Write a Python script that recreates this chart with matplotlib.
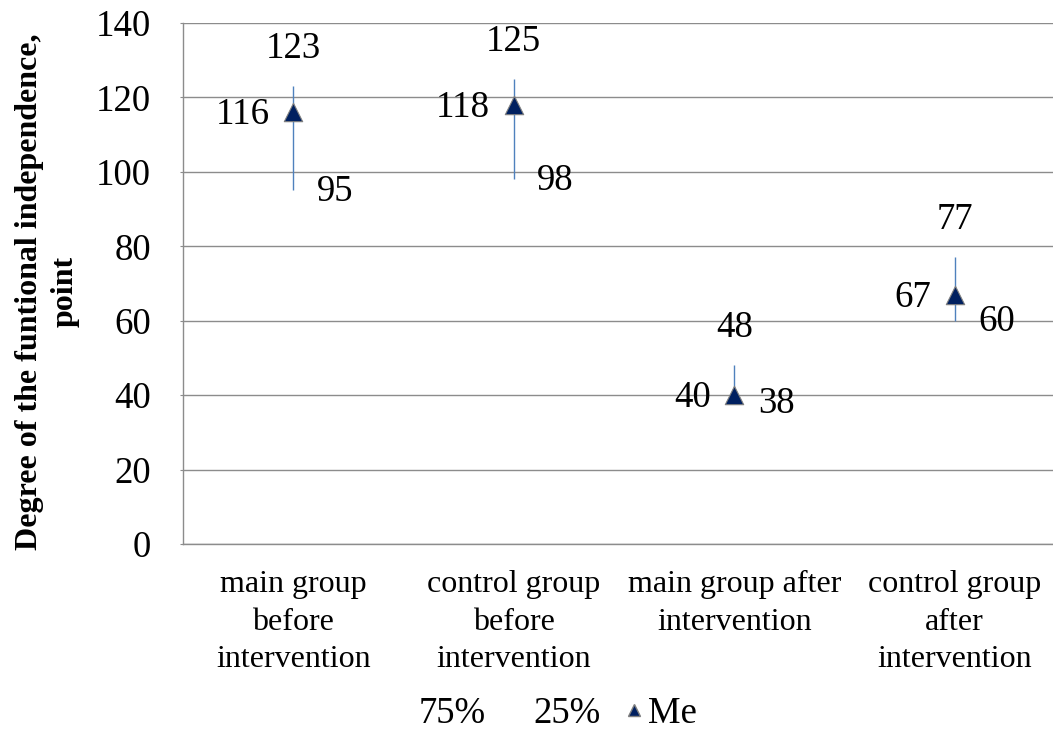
import matplotlib
matplotlib.use("Agg")
import matplotlib.pyplot as plt
from matplotlib.lines import Line2D

plt.rcParams['font.family'] = ['Liberation Serif', 'DejaVu Serif']

categories = ["main group\nbefore\nintervention",
              "control group\nbefore\nintervention",
              "main group after\nintervention",
              "control group\nafter\nintervention"]
q75 = [123, 125, 48, 77]
q25 = [95, 98, 38, 60]
median = [116, 118, 40, 67]
y_ticks = [0, 20, 40, 60, 80, 100, 120, 140]

W, H = 1053, 733
fig = plt.figure(figsize=(W / 100, H / 100), dpi=100)
left, right, bottom, top = 183, 1065, 544, 23
ax = fig.add_axes([left / W, 1 - bottom / H, (right - left) / W, (bottom - top) / H])

x = list(range(len(categories)))
grid_c = "#8c8c8c"
fs = 26.5

ax.set_xlim(-0.5, len(categories) - 0.5)
ax.set_ylim(0, 140)
ax.set_yticks(y_ticks)
ax.yaxis.grid(True, color=grid_c, linewidth=1.0)
ax.set_axisbelow(True)
for s in ("top", "right"):
    ax.spines[s].set_visible(False)
for s in ("left", "bottom"):
    ax.spines[s].set_color(grid_c)
    ax.spines[s].set_linewidth(1.0)

# high-low lines between the quartiles
ax.vlines(x, q25, q75, color="#4f81bd", linewidth=1.0, zorder=2)
ax.scatter(x, median, marker="^", s=175, color="#002060", edgecolors="#7f7f7f",
           linewidths=0.8, zorder=3)

for xi, hi, lo, me in zip(x, q75, q25, median):
    ax.annotate(f"{hi}", (xi, hi), xytext=(0, 27), textcoords="offset points",
                ha="center", va="center", fontsize=fs)
    ax.annotate(f"{me}", (xi, me), xytext=(-17, -2), textcoords="offset points",
                ha="right", va="center", fontsize=fs)
    ax.annotate(f"{lo}", (xi, lo), xytext=(17, -1), textcoords="offset points",
                ha="left", va="center", fontsize=fs)

ax.set_xticks(x)
ax.set_xticklabels(categories, fontsize=23, linespacing=1.38)
ax.tick_params(axis="x", length=0, pad=19)
ax.tick_params(axis="y", length=2, color=grid_c, labelsize=fs, pad=21)

ax.set_ylabel("Degree of the funtional independence,\npoint", fontsize=23,
              fontweight="bold", linespacing=1.3)
ax.yaxis.set_label_coords(-103 / 882, 0.485)

handles = [Line2D([], [], linestyle="none", marker=None),
           Line2D([], [], linestyle="none", marker=None),
           Line2D([], [], linestyle="none", marker="^", markersize=8.5,
                  markerfacecolor="#002060", markeredgecolor="#7f7f7f")]
fig.legend(handles, ["75%", "25%", "Me"], loc="center", ncol=3,
           bbox_to_anchor=(545 / W, 1 - 714 / H), frameon=False, fontsize=fs,
           handlelength=0.6, handletextpad=0.1, columnspacing=0.6,
           borderpad=0.0)

fig.savefig("out.png", dpi=100)
